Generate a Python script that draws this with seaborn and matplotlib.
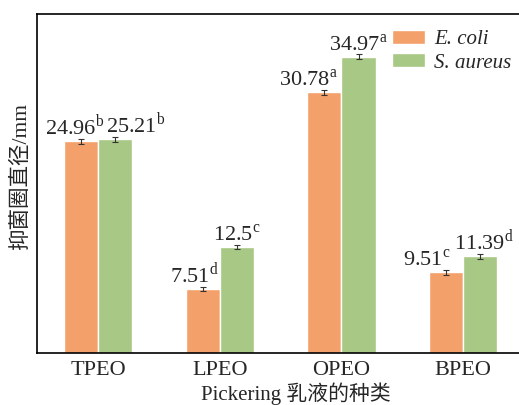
import numpy as np
import pandas as pd
import matplotlib
matplotlib.use('Agg')
import matplotlib.pyplot as plt
import seaborn as sns

# data
emulsions = ['TPEO', 'LPEO', 'OPEO', 'BPEO']
strains = ['E. coli', 'S. aureus']
ecoli = [24.96, 7.51, 30.78, 9.51]
saureus = [25.21, 12.5, 34.97, 11.39]
ecoli_err = [0.3, 0.25, 0.3, 0.25]
saureus_err = [0.3, 0.25, 0.3, 0.25]
ecoli_sig = ['b', 'd', 'a', 'c']
saureus_sig = ['b', 'c', 'a', 'd']
ecoli_txt = ['24.96', '7.51', '30.78', '9.51']
saureus_txt = ['25.21', '12.5', '34.97', '11.39']

# label nudges (pixels) to keep neighbouring labels apart
ecoli_dx = [-6, -8, -16, -19]
saureus_dx = [21, 0, 0, 4]

df = pd.DataFrame({
    'emulsion': emulsions * 2,
    'strain': [strains[0]] * 4 + [strains[1]] * 4,
    'value': ecoli + saureus,
})

sns.set_style('white')
plt.rcParams['font.family'] = ['Liberation Serif', 'Noto Sans CJK SC']
plt.rcParams['mathtext.fontset'] = 'stix'

fig = plt.figure(figsize=(5.19, 4.05), dpi=100)
ax = fig.add_axes([37 / 519, 52 / 405, 1 - 37 / 519 + 0.01, 339 / 405])

colors = ['#F4A06A', '#A8C885']
sns.barplot(data=df, x='emulsion', y='value', hue='strain', order=emulsions,
            hue_order=strains, palette=colors, width=0.56, errorbar=None,
            edgecolor='white', linewidth=1, saturation=1, ax=ax)

errs = [ecoli_err, saureus_err]
txts = [ecoli_txt, saureus_txt]
sigs = [ecoli_sig, saureus_sig]
dxs = [ecoli_dx, saureus_dx]
bar_groups = list(ax.containers)
for k, cont in enumerate(bar_groups):
    for i, bar in enumerate(cont.patches):
        xc = bar.get_x() + bar.get_width() / 2
        h = bar.get_height()
        ax.errorbar(xc, h, yerr=errs[k][i], fmt='none', ecolor='#333333',
                    elinewidth=0.8, capsize=2.5, capthick=0.8)
        label = '%s$^{\\mathregular{%s}}$' % (txts[k][i], sigs[k][i])
        ax.annotate(label, xy=(xc, h), xytext=(dxs[k][i], 7),
                    textcoords='offset pixels', ha='center', va='baseline',
                    fontsize=16, family='Liberation Serif')

ax.set_ylim(0, 40)
ax.set_xlim(-0.5, 3.5)
ax.set_yticks([])
ax.tick_params(axis='x', labelsize=16, length=0, pad=6)
for s in ax.spines.values():
    s.set_color('black')
    s.set_linewidth(1.2)

ax.set_ylabel('抑菌圈直径/mm', fontsize=15.5)
ax.yaxis.set_label_coords(-0.013, 0.522)
ax.set_xlabel('Pickering 乳液的种类', fontsize=15, va='top')
ax.xaxis.set_label_coords(0.531, -0.088)

leg = ax.legend(loc='upper right', bbox_to_anchor=(1.0, 0.99), frameon=False,
                prop={'family': 'Liberation Serif', 'style': 'italic', 'size': 15},
                handlelength=1.6, handleheight=0.65, handletextpad=0.45,
                labelspacing=0.2, borderaxespad=0.2)

fig.savefig('out.png', dpi=100)
